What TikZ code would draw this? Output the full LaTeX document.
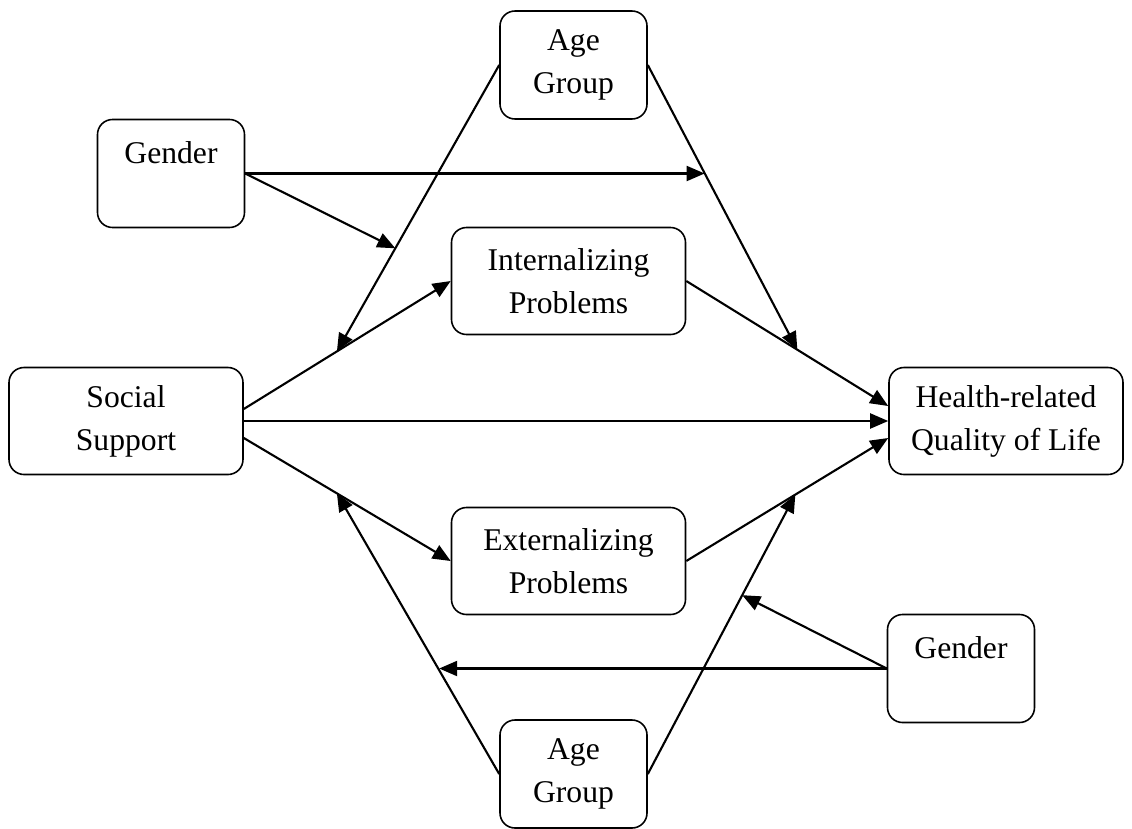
\documentclass[tikz,border=0pt]{standalone}
\usepackage{fontspec}
\setmainfont{Liberation Serif}
\usetikzlibrary{shapes.geometric, arrows.meta}

\begin{document}
\begin{tikzpicture}[node distance=8.85cm, font=\fontsize{18}{24.4}\selectfont]
\tikzstyle{smallbox} = [rectangle, rounded corners=0.3cm, minimum width=2.94cm, minimum height=2.16cm, text centered, align=center, draw=black, line width=0.9pt]
\tikzstyle{bigbox} = [rectangle, rounded corners=0.3cm, minimum width=4.68cm, minimum height=2.14cm, text centered, align=center, draw=black, line width=0.9pt]
\tikzstyle{arrow} = [line width=1.2pt, -{Triangle[length=0.36cm, width=0.3cm]}]
\useasboundingbox (-2.52,-8.14) rectangle (20.12,8.42);
 % boxes
\node (ss) [bigbox] {Social\\Support};
\node (ig) [bigbox, right of=ss, yshift=2.8cm] {Internalizing\\Problems};
\node (eg) [bigbox, right of=ss, yshift=-2.8cm] {Externalizing\\Problems};
\node (hr) [bigbox, right of=ig, xshift=-0.1cm, yshift=-2.8cm] {Health-related\\Quality of Life};
\node (agt) [smallbox, right of=ss, xshift=0.1cm, yshift=7.12cm] {Age\\Group};
\node (agb) [smallbox, right of=ss, xshift=0.1cm, yshift=-7.06cm] {Age\\Group};
\node (gt) [smallbox, above of=ss, xshift=0.9cm, yshift=-3.9cm] {Gender\\~};
\node (gb) [smallbox, below of=hr, xshift=-0.9cm, yshift=3.9cm] {Gender\\~};

 % paths
\draw [arrow] ([yshift=0.24cm]ss.east) -- coordinate[pos=0.45] (m1) (ig.west);
\draw [arrow] (ss.east) -- (hr.west);
\draw [arrow] ([yshift=-0.34cm]ss.east) -- coordinate[pos=0.45] (m3) (eg.west);
\draw [arrow] (ig.east) -- coordinate[pos=0.55] (m2) ([yshift=0.3cm]hr.west);
\draw [arrow] (eg.east) -- coordinate[pos=0.54] (m4) ([yshift=-0.34cm]hr.west);
\draw [arrow] (agt.west) -- coordinate[pos=0.64] (g2) (m1);
\draw [arrow] (agt.east) -- coordinate[pos=0.38] (g1) (m2);
\draw [arrow] (agb.west) -- coordinate[pos=0.37] (g3) (m3);
\draw [arrow] (agb.east) -- coordinate[pos=0.64] (g4) (m4);
\draw [arrow] (gt.east) -- (gt.east -| g1);
\draw [arrow] (gt.east) -- (g2);
\draw [arrow] (gb.west) -- (gb.west -| g3);
\draw [arrow] (gb.west) -- (g4);
\end{tikzpicture}
\end{document}
